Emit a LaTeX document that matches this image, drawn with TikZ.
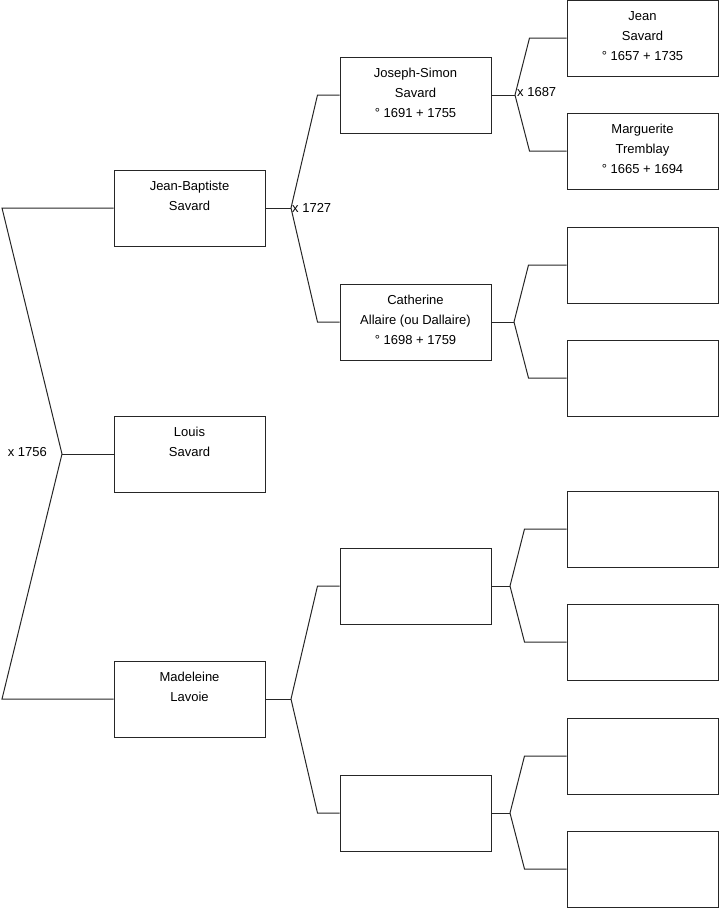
\documentclass[tikz,border=0pt]{standalone}
\usepackage{fontspec}
\setmainfont{Liberation Sans}
\usetikzlibrary{positioning}

\begin{document}
\begin{tikzpicture}[x=1pt, y=-1pt,
    person/.style={rectangle, draw=black!85, line width=1pt, inner sep=0pt, minimum width=151pt, minimum height=76pt},
    link/.style={draw=black!85, line width=1pt},
    wedding/.style={font=\fontsize{13}{15}\selectfont, inner sep=1pt}
]
    \def\boxW{151pt}
    \def\boxH{76pt}
    \def\who#1{\parbox[c][\boxH][t]{\boxW}{\centering\fontsize{13}{20}\selectfont\vspace*{6pt}\strut#1}}

    \useasboundingbox (0,0) rectangle (719,908);

    % Generazione 1
    \node[person] (jb)    at (189.5,208) {\who{Jean-Baptiste\\Savard}};
    \node[person] (louis) at (189.5,454) {\who{Louis\\Savard}};
    \node[person] (mad)   at (189.5,699) {\who{Madeleine\\Lavoie}};

    % Generazione 2
    \node[person] (js)  at (415.5,95)  {\who{Joseph-Simon\\Savard\\° 1691 + 1755}};
    \node[person] (cat) at (415.5,322) {\who{Catherine\\Allaire (ou Dallaire)\\° 1698 + 1759}};
    \node[person] (pm)  at (415.5,586) {\who{}};
    \node[person] (mm)  at (415.5,813) {\who{}};

    % Generazione 3
    \node[person] (jean) at (642.5,38)  {\who{Jean\\Savard\\° 1657 + 1735}};
    \node[person] (marg) at (642.5,151) {\who{Marguerite\\Tremblay\\° 1665 + 1694}};
    \node[person] (cf)   at (642.5,265) {\who{}};
    \node[person] (cm)   at (642.5,378) {\who{}};
    \node[person] (pmf)  at (642.5,529) {\who{}};
    \node[person] (pmm)  at (642.5,642) {\who{}};
    \node[person] (mmf)  at (642.5,756) {\who{}};
    \node[person] (mmm)  at (642.5,869) {\who{}};

    % Punti di biforcazione
    \coordinate (top)  at (2,208);
    \coordinate (bot)  at (2,699);
    \coordinate (f0)   at (62,454);
    \coordinate (fjb)  at (291,208);
    \coordinate (fmad) at (291,699);
    \coordinate (fjs)  at (515,95);
    \coordinate (fcat) at (514,322);
    \coordinate (fpm)  at (510,586);
    \coordinate (fmm)  at (510,813);

    % Radice
    \draw[link] (jb.west) -- (top) -- (f0) -- (bot) -- (mad.west);
    \draw[link] (f0) -- (louis.west);
    \node[wedding, left=14pt of f0, yshift=2pt] (m0) {x 1756};

    % Jean-Baptiste
    \draw[link] (jb.east) -- (fjb);
    \draw[link] (fjb) -- ([xshift=-22pt]js.west) -- (js.west);
    \draw[link] (fjb) -- ([xshift=-22pt]cat.west) -- (cat.west);
    \node[wedding, right=0pt of fjb] (m1) {x 1727};

    % Madeleine
    \draw[link] (mad.east) -- (fmad);
    \draw[link] (fmad) -- ([xshift=-22pt]pm.west) -- (pm.west);
    \draw[link] (fmad) -- ([xshift=-22pt]mm.west) -- (mm.west);

    % Joseph-Simon
    \draw[link] (js.east) -- (fjs);
    \draw[link] (fjs) -- ([xshift=-37pt]jean.west) -- (jean.west);
    \draw[link] (fjs) -- ([xshift=-37pt]marg.west) -- (marg.west);
    \node[wedding, right=1pt of fjs, yshift=3pt] (m2) {x 1687};

    % Catherine
    \draw[link] (cat.east) -- (fcat);
    \draw[link] (fcat) -- ([xshift=-38pt]cf.west) -- (cf.west);
    \draw[link] (fcat) -- ([xshift=-38pt]cm.west) -- (cm.west);

    % Genitori vuoti
    \draw[link] (pm.east) -- (fpm);
    \draw[link] (fpm) -- ([xshift=-42pt]pmf.west) -- (pmf.west);
    \draw[link] (fpm) -- ([xshift=-42pt]pmm.west) -- (pmm.west);
    \draw[link] (mm.east) -- (fmm);
    \draw[link] (fmm) -- ([xshift=-42pt]mmf.west) -- (mmf.west);
    \draw[link] (fmm) -- ([xshift=-42pt]mmm.west) -- (mmm.west);
\end{tikzpicture}
\end{document}
